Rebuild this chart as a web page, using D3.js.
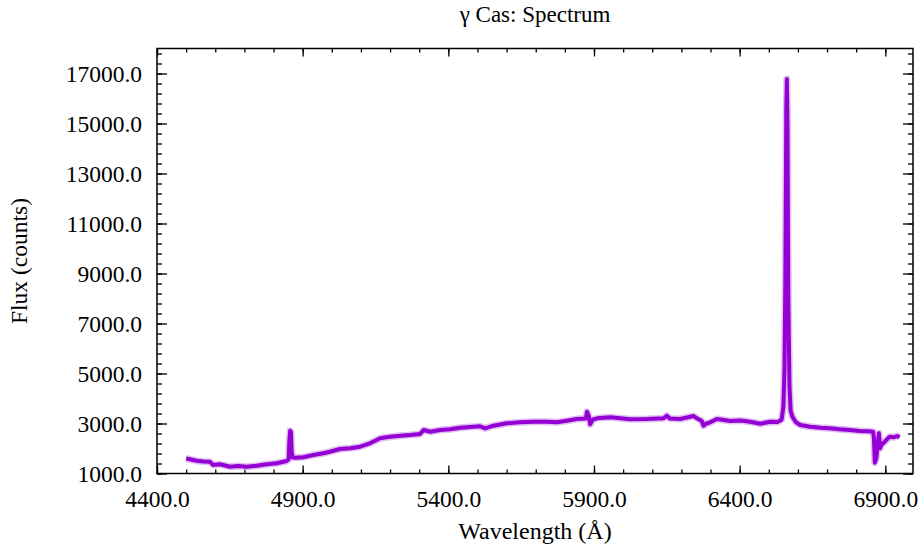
<!DOCTYPE html>
<html>
<head>
<meta charset="utf-8">
<script src="https://cdn.jsdelivr.net/npm/d3@7"></script>
<style>
  html, body { margin: 0; padding: 0; background: #fff; }
  svg { display: block; }
  text { font-family: "Liberation Serif", "DejaVu Serif", serif; fill: #000; }
</style>
</head>
<body>
<svg id="chart" width="920" height="548"></svg>
<script>
// ---- Data ----
const wavelength = [
  4500, 4536, 4560, 4582, 4592, 4616, 4651, 4678, 4708, 4742, 4777, 4811, 4845,
  4852, 4854, 4857, 4860, 4862, 4865,
  4874, 4902, 4937, 4971, 4994, 5028, 5063, 5097, 5131, 5166, 5176, 5200, 5235,
  5269, 5303, 5315, 5338, 5372, 5406, 5441, 5475, 5509, 5526, 5555, 5601, 5647,
  5692, 5738, 5773, 5807, 5841, 5872, 5876, 5882, 5887, 5895, 5910, 5956, 5990,
  6024, 6082, 6139, 6150, 6160, 6196, 6242, 6253, 6270, 6276, 6286, 6299, 6322,
  6368, 6402, 6436, 6471, 6505, 6530, 6544, 6550, 6554, 6557, 6560, 6562, 6564,
  6567, 6571, 6575, 6581, 6593, 6608, 6642, 6677, 6709, 6743, 6778, 6812, 6840,
  6858, 6861, 6864, 6869, 6874, 6878, 6882, 6887, 6898, 6915, 6930, 6940, 6949
];
const flux = [
  1600, 1512, 1480, 1472, 1340, 1368, 1272, 1300, 1272, 1312, 1368, 1408, 1500,
  1560, 2200, 2712, 2650, 1900, 1650,
  1632, 1648, 1740, 1808, 1872, 1980, 2008, 2072, 2208, 2408, 2432, 2472, 2512,
  2540, 2580, 2740, 2672, 2740, 2768, 2832, 2860, 2890, 2808, 2912, 3008, 3048,
  3072, 3072, 3048, 3112, 3180, 3200, 3472, 3300, 2968, 3150, 3208, 3248, 3208,
  3170, 3180, 3208, 3312, 3200, 3180, 3300, 3208, 3100, 2912, 3000, 3048, 3180,
  3100, 3120, 3072, 2990, 3072, 3060, 3150, 3672, 5200, 9000, 15500, 16780, 15000,
  8000, 4500, 3500, 3272, 3050, 2940, 2872, 2832, 2808, 2768, 2740, 2700, 2690,
  2672, 2400, 1432, 1608, 2200, 2608, 2008, 2150, 2272, 2472, 2450, 2500, 2448
];
const xTickValues = [4400, 4900, 5400, 5900, 6400, 6900];
const yTickValues = [1000, 3000, 5000, 7000, 9000, 11000, 13000, 15000, 17000];
const xDomain = [4400, 6995];
const yDomain = [1000, 18000];
const titleText = "\u03b3 Cas: Spectrum";
const xLabel = "Wavelength (\u00c5)";
const yLabel = "Flux (counts)";

// ---- Layout ----
const W = 920, H = 548;
const margin = { top: 48.5, right: 7, bottom: 74.5, left: 157 };
const iw = W - margin.left - margin.right;
const ih = H - margin.top - margin.bottom;

const svg = d3.select("#chart");
const g = svg.append("g").attr("transform", `translate(${margin.left},${margin.top})`);

const x = d3.scaleLinear().domain(xDomain).range([0, iw]);
const y = d3.scaleLinear().domain(yDomain).range([ih, 0]);

const xMinor = d3.range(4400, xDomain[1] + 1, 100);
const yMinor = d3.range(1000, yDomain[1] + 1, 400);
const fmt = d3.format(".1f");
const fontSize = 23.5;

function styleAxis(sel) {
  sel.select(".domain").remove();
  sel.selectAll(".tick line").attr("stroke", "#000").attr("stroke-width", 1.3);
  sel.selectAll("text").style("font-size", fontSize + "px")
     .style("font-family", '"Liberation Serif", serif').attr("fill", "#000");
}

// Minor ticks (all four sides, inward)
g.append("g").attr("transform", `translate(0,${ih})`)
  .call(d3.axisBottom(x).tickValues(xMinor).tickSize(-4).tickFormat(""))
  .call(styleAxis);
g.append("g")
  .call(d3.axisTop(x).tickValues(xMinor).tickSize(-4).tickFormat(""))
  .call(styleAxis);
g.append("g")
  .call(d3.axisLeft(y).tickValues(yMinor).tickSize(-5).tickFormat(""))
  .call(styleAxis);
g.append("g").attr("transform", `translate(${iw},0)`)
  .call(d3.axisRight(y).tickValues(yMinor).tickSize(-5).tickFormat(""))
  .call(styleAxis);

// Major ticks
g.append("g").attr("transform", `translate(0,${ih})`)
  .call(d3.axisBottom(x).tickValues(xTickValues).tickSize(-8).tickPadding(17).tickFormat(fmt))
  .call(styleAxis);
g.append("g")
  .call(d3.axisTop(x).tickValues(xTickValues).tickSize(-8).tickFormat(""))
  .call(styleAxis);
g.append("g")
  .call(d3.axisLeft(y).tickValues(yTickValues).tickSize(-10).tickPadding(15).tickFormat(fmt))
  .call(styleAxis);
g.append("g").attr("transform", `translate(${iw},0)`)
  .call(d3.axisRight(y).tickValues(yTickValues).tickSize(-10).tickFormat(""))
  .call(styleAxis);

// Frame
g.append("rect").attr("x", 0).attr("y", 0).attr("width", iw).attr("height", ih)
  .attr("fill", "none").attr("stroke", "#000").attr("stroke-width", 1.5);

// Spectrum line
const data = wavelength.map((w, i) => ({ w, f: flux[i] }));
const line = d3.line().x(d => x(d.w)).y(d => y(d.f));
g.append("path").datum(data)
  .attr("d", line)
  .attr("fill", "none")
  .attr("stroke", "#c98ae8")
  .attr("stroke-width", 7)
  .attr("stroke-linejoin", "round")
  .attr("opacity", 0.55);
g.append("path").datum(data)
  .attr("d", line)
  .attr("fill", "none")
  .attr("stroke", "#9400d3")
  .attr("stroke-width", 4)
  .attr("stroke-linejoin", "round");

// Titles
svg.append("text").attr("x", margin.left + iw / 2).attr("y", 22)
  .attr("text-anchor", "middle").style("font-size", "23px").text(titleText);
svg.append("text").attr("x", margin.left + iw / 2).attr("y", 539)
  .attr("text-anchor", "middle").style("font-size", "24px").text(xLabel);
svg.append("text")
  .attr("transform", `translate(27,${margin.top + ih / 2}) rotate(-90)`)
  .attr("text-anchor", "middle").style("font-size", "23.5px").text(yLabel);
</script>
</body>
</html>
